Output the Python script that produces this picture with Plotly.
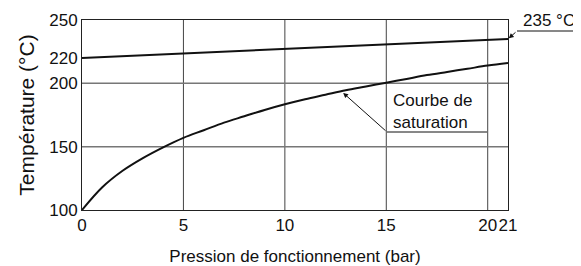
import plotly.graph_objects as go

# Data
pressure_bar = [0, 1, 2, 3, 4, 5, 6, 7, 8, 9, 10, 11, 12, 13, 14, 15, 16, 17, 18, 19, 20, 21]
saturation_temp = [100, 118, 131, 141, 149.5, 157, 163, 169, 174, 179, 183.5, 187.5, 191, 194.5,
                   197.5, 200.5, 203.5, 206.5, 209, 211.5, 214, 216]
max_temp_pressure = [0, 21]
max_temp = [220, 235]
x_tickvals = [0, 5, 10, 15, 20, 21]
x_ticktext = ["0", "5", "10", "15", "20", "21"]
y_tickvals = [100, 150, 200, 220, 250]
y_ticktext = ["100", "150", "200", "220", "250"]

FONT = "Liberation Sans, Arial, sans-serif"
OFF = 8  # page body margin
W, H = 581 - OFF, 266 - OFF
L, R, T, B = 82 - OFF, 73, 20 - OFF, 56
pw = W - L - R
ph = H - T - B
XR = (0, 21)
YR = (100, 250)

def px_x(p):
    return (p - OFF - L) / pw

def px_y(p):
    return (H - B - (p - OFF)) / ph

def data_to_px(x, y):
    return (OFF + L + (x - XR[0]) / (XR[1] - XR[0]) * pw,
            OFF + H - B - (y - YR[0]) / (YR[1] - YR[0]) * ph)

fig = go.Figure()
fig.add_trace(go.Scatter(x=max_temp_pressure, y=max_temp, mode="lines",
                         line=dict(color="#111", width=2), cliponaxis=False, showlegend=False))
fig.add_trace(go.Scatter(x=pressure_bar, y=saturation_temp, mode="lines", line_shape="spline",
                         line=dict(color="#111", width=2, smoothing=1), cliponaxis=False,
                         showlegend=False))

# gridlines (vertical at 5,10,15,20 ; horizontal at 150,200)
for xv in [5, 10, 15, 20]:
    fig.add_shape(type="line", xref="x", yref="paper", x0=xv, x1=xv, y0=0, y1=1,
                  line=dict(color="#444", width=1), layer="below")
for yv in [150, 200]:
    fig.add_shape(type="line", xref="paper", yref="y", x0=0, x1=1, y0=yv, y1=yv,
                  line=dict(color="#777", width=1.5), layer="below")

def arrow(tx, ty, sx, sy, standoff):
    tpx, tpy = data_to_px(tx, ty)
    fig.add_annotation(x=tx, y=ty, xref="x", yref="y", ax=sx - tpx, ay=sy - tpy,
                       axref="pixel", ayref="pixel", text="", showarrow=True,
                       arrowhead=2, arrowsize=1, arrowwidth=1, arrowcolor="#111",
                       standoff=standoff)

# 235 °C label
fig.add_annotation(x=px_x(549), y=px_y(20), xref="paper", yref="paper", text="235 °C",
                   xanchor="center", yanchor="middle",
                   showarrow=False, font=dict(size=17, color="#111", family=FONT))
fig.add_shape(type="line", xref="paper", yref="paper", x0=px_x(517), x1=px_x(580),
              y0=px_y(31), y1=px_y(31), line=dict(color="#111", width=1))
arrow(21, 235, 517, 31, 1)

# Courbe de saturation label
fig.add_annotation(x=px_x(391), y=px_y(112), xref="paper", yref="paper",
                   xanchor="left", yanchor="middle",
                   text="Courbe de<br>saturation", showarrow=False, align="left",
                   font=dict(size=17, color="#111", family=FONT))
fig.add_shape(type="line", xref="paper", yref="paper", x0=px_x(387), x1=px_x(487),
              y0=px_y(132), y1=px_y(132), line=dict(color="#111", width=1))
arrow(12.8, 193.5, 387, 132, 2)

fig.update_xaxes(range=list(XR), tickvals=x_tickvals, ticktext=x_ticktext,
                 showgrid=False, zeroline=False, showline=True, mirror=True,
                 linecolor="#222", linewidth=1, ticks="", tickangle=0, automargin=False,
                 tickfont=dict(size=17, color="#111", family=FONT),
                 title=dict(text="Pression de fonctionnement (bar)", standoff=18,
                            font=dict(size=17, color="#111", family=FONT)))
fig.update_yaxes(range=list(YR), tickvals=y_tickvals, ticktext=y_ticktext,
                 showgrid=False, zeroline=False, showline=True, mirror=True,
                 linecolor="#222", linewidth=1, ticks="", automargin=False,
                 tickfont=dict(size=17, color="#111", family=FONT),
                 title=dict(text="Température (°C)", standoff=8,
                            font=dict(size=21, color="#111", family=FONT)))

fig.update_layout(width=W, height=H, margin=dict(l=L, r=R, t=T, b=B),
                  plot_bgcolor="white", paper_bgcolor="white", showlegend=False)

fig.write_html("out.html")
